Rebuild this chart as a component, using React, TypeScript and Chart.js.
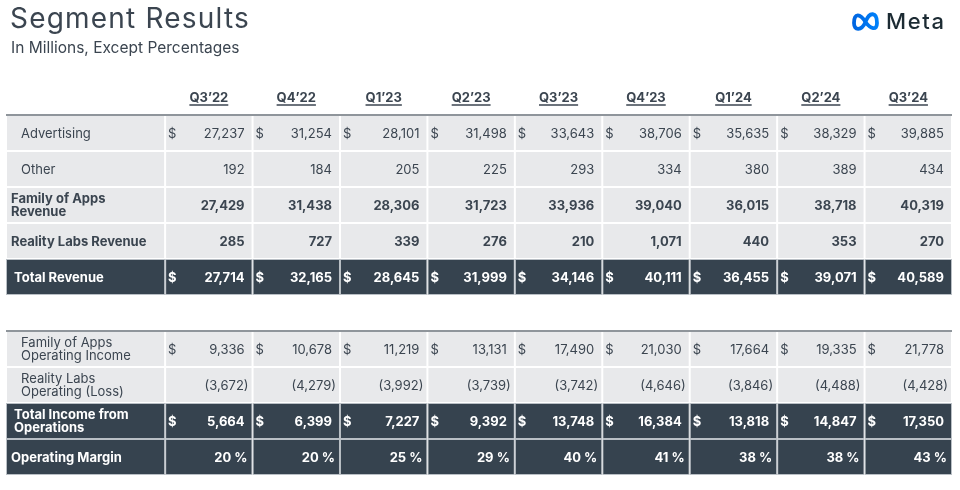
import React, { useEffect, useRef } from "react";
import { Chart, registerables } from "chart.js";

Chart.register(...registerables);

const quarters = ["Q3’22", "Q4’22", "Q1’23", "Q2’23", "Q3’23", "Q4’23", "Q1’24", "Q2’24", "Q3’24"];
const advertising = [27237, 31254, 28101, 31498, 33643, 38706, 35635, 38329, 39885];
const other = [192, 184, 205, 225, 293, 334, 380, 389, 434];
const foaRevenue = [27429, 31438, 28306, 31723, 33936, 39040, 36015, 38718, 40319];
const rlRevenue = [285, 727, 339, 276, 210, 1071, 440, 353, 270];
const totalRevenue = [27714, 32165, 28645, 31999, 34146, 40111, 36455, 39071, 40589];
const foaOpIncome = [9336, 10678, 11219, 13131, 17490, 21030, 17664, 19335, 21778];
const rlOpLoss = [-3672, -4279, -3992, -3739, -3742, -4646, -3846, -4488, -4428];
const totalIncomeOps = [5664, 6399, 7227, 9392, 13748, 16384, 13818, 14847, 17350];
const operatingMargin = [20, 20, 25, 29, 40, 41, 38, 38, 43];

const rowKeys = ["header", "adv", "other", "foaRev", "rlRev", "totRev", "gap", "foaOI", "rlOL", "totOI", "margin"];
const rowLabels = [
  "",
  "Advertising",
  "Other",
  "Family of Apps\nRevenue",
  "Reality Labs Revenue",
  "Total Revenue",
  "",
  "Family of Apps\nOperating Income",
  "Reality Labs\nOperating (Loss)",
  "Total Income from\nOperations",
  "Operating Margin",
];
const rowValues: (number[] | null)[] = [
  null, advertising, other, foaRevenue, rlRevenue, totalRevenue, null, foaOpIncome, rlOpLoss, totalIncomeOps, operatingMargin,
];
const dollarRows = ["adv", "totRev", "foaOI", "totOI"];
const percentRows = ["margin"];

// styles
const rowStyle = ["none", "light", "light", "lightBold", "lightBold", "dark", "none", "light", "light", "dark", "dark"];
const labelIndent = [0, 15, 15, 5, 5, 8, 0, 15, 15, 8, 5];
const LABEL_START = -1.82;

const TEXT = "#3b4550";
const LIGHT = "#e8e9eb";
const DARK = "#36434f";
const FONT = "Inter, 'Noto Sans', sans-serif";

function fmt(v: number, key: string) {
  if (percentRows.includes(key)) return `${v} %`;
  const s = Math.abs(v).toLocaleString("en-US");
  return v < 0 ? `(${s})` : s;
}

const tablePlugin = {
  id: "tableText",
  afterDatasetsDraw(chart: any) {
    const ctx: CanvasRenderingContext2D = chart.ctx;
    const xs = chart.scales.x;
    const ys = chart.scales.y;
    const rowH = Math.abs(ys.getPixelForValue(1) - ys.getPixelForValue(0));
    ctx.save();

    // title
    ctx.fillStyle = TEXT;
    ctx.textBaseline = "alphabetic";
    ctx.textAlign = "left";
    ctx.font = `400 28px ${FONT}`;
    (ctx as any).letterSpacing = "1.2px";
    ctx.fillText("Segment Results", 10, 28);
    (ctx as any).letterSpacing = "0px";
    ctx.font = `400 15.5px ${FONT}`;
    ctx.fillText("In Millions, Except Percentages", 11, 53);

    // Meta logo
    const cx = 865.5, cy = 22;
    const grad = ctx.createLinearGradient(cx - 13, cy, cx + 13, cy);
    grad.addColorStop(0, "#0064e0");
    grad.addColorStop(1, "#0082fb");
    ctx.strokeStyle = grad;
    ctx.lineWidth = 3.8;
    ctx.lineJoin = "round";
    ctx.beginPath();
    ctx.moveTo(cx, cy);
    ctx.bezierCurveTo(cx + 4, cy - 11, cx + 11.5, cy - 10, cx + 11.5, cy + 1);
    ctx.bezierCurveTo(cx + 11.5, cy + 9, cx + 5, cy + 7, cx, cy);
    ctx.bezierCurveTo(cx - 5, cy - 8, cx - 11.5, cy - 10, cx - 11.5, cy + 1);
    ctx.bezierCurveTo(cx - 11.5, cy + 9, cx - 4, cy + 9, cx, cy);
    ctx.stroke();
    ctx.fillStyle = "#1c2b33";
    ctx.font = `500 22px ${FONT}`;
    (ctx as any).letterSpacing = "1.6px";
    ctx.fillText("Meta", 886, 29);
    (ctx as any).letterSpacing = "0px";

    // top rules of the two tables
    ctx.fillStyle = "#8f959b";
    const left = xs.getPixelForValue(LABEL_START);
    const right = xs.getPixelForValue(quarters.length);
    [1, 7].forEach((r) => {
      const top = ys.getPixelForValue(r) - rowH / 2;
      ctx.fillRect(left, top - 1, right - left, 2);
    });

    // headers
    ctx.fillStyle = TEXT;
    ctx.strokeStyle = TEXT;
    ctx.lineWidth = 1.3;
    ctx.font = `700 13px ${FONT}`;
    ctx.textAlign = "center";
    const hy = ys.getPixelForValue(0) + 5;
    quarters.forEach((q, i) => {
      const x = xs.getPixelForValue(i + 0.5);
      ctx.fillText(q, x, hy);
      const w = ctx.measureText(q).width;
      ctx.beginPath();
      ctx.moveTo(x - w / 2, hy + 3);
      ctx.lineTo(x + w / 2, hy + 3);
      ctx.stroke();
    });

    // rows
    rowKeys.forEach((key, r) => {
      const st = rowStyle[r];
      if (st === "none") return;
      const yc = ys.getPixelForValue(r);
      const bold = st !== "light";
      const color = st === "dark" ? "#ffffff" : TEXT;
      ctx.fillStyle = color;
      ctx.font = `${bold ? 700 : 400} 13px ${FONT}`;
      ctx.textAlign = "left";
      const lines = rowLabels[r].split("\n");
      const lh = 12.5;
      lines.forEach((ln, k) => {
        const y = yc + 4.7 + (k - (lines.length - 1) / 2) * lh;
        ctx.fillText(ln, left + labelIndent[r], y);
      });
      const vals = rowValues[r];
      if (!vals) return;
      vals.forEach((v, c) => {
        const cl = xs.getPixelForValue(c);
        const cr = xs.getPixelForValue(c + 1);
        ctx.textAlign = "left";
        if (dollarRows.includes(key)) ctx.fillText("$", cl + 3, yc + 4.7);
        ctx.textAlign = "right";
        let rx = cr - 8;
        if (v < 0) rx = cr - 4;
        if (percentRows.includes(key)) rx = cr - 5;
        ctx.fillText(fmt(v, key), rx, yc + 4.7);
      });
    });
    ctx.restore();
  },
};

export default function App() {
  const ref = useRef<HTMLCanvasElement>(null);
  useEffect(() => {
    if (!ref.current) return;
    const datasets = [];
    for (let c = -1; c < quarters.length; c++) {
      datasets.push({
        label: c < 0 ? "label" : quarters[c],
        data: rowKeys.map((_, r) =>
          rowStyle[r] === "none" ? null : c < 0 ? [LABEL_START, 0] : [c, c + 1]
        ),
        backgroundColor: rowStyle.map((s) => (s === "dark" ? DARK : LIGHT)),
        borderColor: rowStyle.map((s) => (s === "dark" ? "#b9bfc5" : "#ffffff")),
        borderWidth: 1,
        borderSkipped: false,
        inflateAmount: 0,
        grouped: false,
        barPercentage: 1,
        categoryPercentage: 1,
      });
    }
    const chart = new Chart(ref.current, {
      type: "bar",
      data: { labels: rowKeys, datasets: datasets as any },
      options: {
        indexAxis: "y",
        animation: false,
        responsive: false,
        events: [],
        layout: { padding: { top: 79, bottom: 15, left: 6, right: 8 } },
        plugins: { legend: { display: false }, tooltip: { enabled: false }, title: { display: false } },
        scales: {
          x: { type: "linear", min: LABEL_START, max: quarters.length, display: false },
          y: { type: "category", display: false, offset: true },
        },
      },
      plugins: [tablePlugin],
    });
    return () => chart.destroy();
  }, []);
  return (
    <div style={{ position: "fixed", left: 0, top: 0, width: 960, height: 490, background: "#fff" }}>
      <canvas ref={ref} width={960} height={490} style={{ width: 960, height: 490 }} />
    </div>
  );
}
